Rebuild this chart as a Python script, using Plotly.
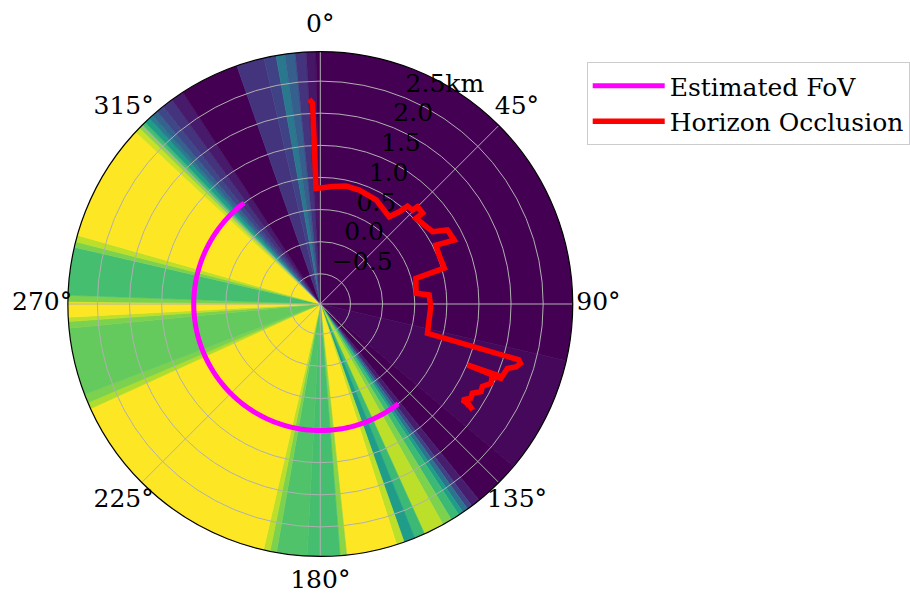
import numpy as np
import plotly.graph_objects as go
from plotly.colors import sample_colorscale

# Radial extent of the polar plot (km)
R_MIN, R_MAX = -0.97, 2.96
# Radius (same units) at which the azimuth labels sit, just outside the rim
ANGLE_LABEL_R = 3.36

# Visibility score per azimuth sector (degrees clockwise from north, value in [0, 1])
sector_edges = [0, 103, 130, 141, 143.1, 144.3, 145.6, 146.7, 148.7, 150.9, 155.6, 158,
                160.6, 162.4, 174, 175.5, 183, 190, 191.5, 193, 245.5, 247, 249, 264.5,
                266, 267, 270.5, 272, 283, 284.3, 285.8, 313, 314.3, 315.2, 316.1, 317.4,
                318.3, 319.7, 321.5, 324, 327, 340.7, 347.1, 349.9, 351.9, 354.3, 356.8,
                359, 360]
sector_values = [0.0, 0.02, 0.0, 0.08, 0.2, 0.38, 0.55, 0.68, 0.8, 0.9, 0.68, 0.55,
                 0.9, 1.0, 0.82, 0.7, 0.72, 0.8, 0.9, 1.0, 0.88, 0.8, 0.76, 0.8,
                 0.9, 1.0, 0.8, 0.7, 0.8, 0.9, 1.0, 0.92, 0.82, 0.7, 0.55, 0.42,
                 0.32, 0.22, 0.15, 0.07, 0.0, 0.15, 0.2, 0.4, 0.3, 0.15, 0.06,
                 0.0]

# Horizon occlusion profile (azimuth deg, range km)
occl_theta = [-3.1, -2.2, -2.1, 6.0, 12.3, 18.9, 28.2, 38.3, 40.6, 41.7, 44.5, 45.0,
              48.4, 48.2, 57.2, 59.8, 64.5, 63.0, 67.6, 73.9, 75.0, 83.6, 85.3, 91.4,
              105.3, 105.7, 106.5, 107.8, 109.0, 112.4, 112.5, 111.8, 113.4, 114.9,
              117.0, 118.6, 120.4, 122.0, 124.0, 124.1, 124.8, 123.6, 124.6]
occl_r = [2.22, 2.16, 0.83, 0.87, 0.91, 0.905, 0.87, 0.76, 0.92, 1.07, 1.08, 1.17,
          1.16, 1.03, 1.11, 1.32, 1.34, 1.05, 1.03, 1.04, 0.57, 0.53, 0.73, 0.75,
          0.76, 2.24, 2.28, 2.23, 2.11, 2.07, 1.51, 2.08, 1.94, 1.96,
          1.86, 1.88, 1.775, 1.795, 1.70, 1.83, 1.92, 1.76, 1.84]

# Estimated field of view
fov_start, fov_end, fov_range = 142.0, 323.0, 1.0

radial_ticks = [-0.5, 0.0, 0.5, 1.0, 1.5, 2.0, 2.5]
radial_labels = ["\u22120.5", "0.0", "0.5", "1.0", "1.5", "2.0", "2.5km"]
angle_ticks = [0, 45, 90, 135, 180, 225, 270, 315]
angle_labels = ["0°", "45°", "90°", "135°", "180°", "225°", "270°", "315°"]

FONT = "DejaVu Serif"
GRID = "#b0b0b0"

# Plot geometry in pixels: centre and rim radius, plus a wider ring for azimuth labels
W, H = 910, 593
CX, CY, RIM, OUTER = 321, 304, 253, 289

edges = np.array(sector_edges, dtype=float)
mids = (edges[:-1] + edges[1:]) / 2
widths = np.diff(edges)
colors = sample_colorscale("Viridis", sector_values)

fig = go.Figure()

# Background sectors (lower polar subplot)
fig.add_trace(go.Barpolar(
    theta=mids, width=widths,
    r=[R_MAX - R_MIN] * len(mids), base=[R_MIN] * len(mids),
    marker=dict(color=colors, line=dict(color=colors, width=0.6)),
    showlegend=False, hoverinfo="skip", subplot="polar",
))

# Radial tick labels along 22.5°
fig.add_trace(go.Scatterpolar(
    theta=[22.5] * len(radial_ticks), r=radial_ticks, text=radial_labels,
    mode="text", textposition="top right",
    textfont=dict(family=FONT, size=25, color="black"),
    showlegend=False, hoverinfo="skip", subplot="polar2",
))

fov_theta = np.linspace(fov_start, fov_end, 200)
fig.add_trace(go.Scatterpolar(
    theta=fov_theta, r=[fov_range] * len(fov_theta), mode="lines",
    line=dict(color="magenta", width=5), name="Estimated FoV", subplot="polar2",
))
fig.add_trace(go.Scatterpolar(
    theta=occl_theta, r=occl_r, mode="lines",
    line=dict(color="red", width=5.5), name="Horizon Occlusion", subplot="polar2",
))

# Azimuth labels around the rim (wider transparent polar subplot)
fig.add_trace(go.Scatterpolar(
    theta=angle_ticks, r=[ANGLE_LABEL_R] * len(angle_ticks), text=angle_labels,
    mode="text", textposition="middle center", cliponaxis=False,
    textfont=dict(family=FONT, size=25, color="black"),
    showlegend=False, hoverinfo="skip", subplot="polar3",
))

domain = dict(x=[(CX - RIM) / W, (CX + RIM) / W],
              y=[(H - CY - RIM) / H, (H - CY + RIM) / H])
outer_domain = dict(x=[(CX - OUTER) / W, (CX + OUTER) / W],
                    y=[max(0, (H - CY - OUTER) / H), (H - CY + OUTER) / H])
outer_rmax = R_MIN + (R_MAX - R_MIN) * OUTER / RIM

hidden_radial = dict(showgrid=False, showticklabels=False, showline=False, ticks="")
hidden_angular = dict(direction="clockwise", rotation=90, showgrid=False,
                      showticklabels=False, showline=False, ticks="")

fig.update_layout(
    width=W, height=H,
    margin=dict(l=0, r=0, t=0, b=0),
    paper_bgcolor="white",
    font=dict(family=FONT, size=25, color="black"),
    polar=dict(
        domain=domain, bgcolor="white", bargap=0,
        radialaxis=dict(range=[R_MIN, R_MAX], **hidden_radial),
        angularaxis=hidden_angular,
    ),
    polar2=dict(
        domain=domain, bgcolor="rgba(0,0,0,0)",
        radialaxis=dict(range=[R_MIN, R_MAX], tickvals=radial_ticks, showticklabels=False,
                        gridcolor=GRID, gridwidth=1.2, showline=False, ticks=""),
        angularaxis=dict(direction="clockwise", rotation=90, tickvals=angle_ticks,
                         showticklabels=False, gridcolor=GRID, gridwidth=1.2,
                         showline=True, linecolor="black", linewidth=1.2, ticks=""),
    ),
    polar3=dict(
        domain=outer_domain, bgcolor="rgba(0,0,0,0)",
        radialaxis=dict(range=[R_MIN, outer_rmax], **hidden_radial),
        angularaxis=hidden_angular,
    ),
    legend=dict(
        x=588 / W, y=1 - 62 / H, xanchor="left", yanchor="top",
        bgcolor="white", bordercolor="#cccccc", borderwidth=1, itemwidth=72,
        font=dict(family=FONT, size=25, color="black"),
    ),
)

fig.write_html("out.html")
